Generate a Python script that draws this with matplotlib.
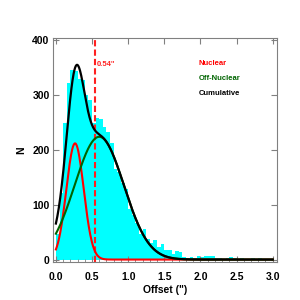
import numpy as np
import matplotlib
matplotlib.use("Agg")
import matplotlib.pyplot as plt

# Histogram of offsets (bin width 0.05")
bin_width = 0.05
bin_starts = [round(i * 0.05, 2) for i in range(60)]
counts = [47, 122, 250, 322, 345, 344, 330, 327, 300, 292,
          250, 258, 256, 242, 232, 212, 165, 160, 140, 128,
          93, 82, 66, 46, 56, 38, 30, 36, 22, 29,
          17, 18, 11, 15, 13, 5, 3, 4, 3, 6,
          5, 7, 7, 6, 3, 3, 0, 2, 4, 3,
          0, 2, 1, 1, 3, 0, 2, 1, 0, 0]

# Gaussian fit parameters (amplitude, centre, sigma)
nuclear_fit = [212.0, 0.265, 0.12]
offnuclear_fit = [224.0, 0.60, 0.34]
median_offset = 0.54

legend_labels = ["Nuclear", "Off-Nuclear", "Cumulative"]
legend_colors = ["#ff0000", "#006400", "#000000"]

plt.rcParams['font.family'] = ['Liberation Sans', 'DejaVu Sans']
plt.rcParams['font.weight'] = 'bold'

fig = plt.figure(figsize=(3, 3), dpi=100)
ax = fig.add_axes([0.1767, 0.1257, 0.7466, 0.749])

ax.bar(bin_starts, counts, width=bin_width, align='edge', color='#00ffff',
       linewidth=0, zorder=1)

xs = np.linspace(0, 3.0, 601)
def gauss(x, p):
    return p[0] * np.exp(-(x - p[1]) ** 2 / (2 * p[2] ** 2))

nuc = gauss(xs, nuclear_fit)
off = gauss(xs, offnuclear_fit)
ax.plot(xs, nuc, color='#ff0000', lw=1.5, zorder=3)
ax.plot(xs, off, color='#006400', lw=1.5, zorder=3)
ax.plot(xs, nuc + off, color='#000000', lw=1.6, zorder=4)

ax.axvline(median_offset, color='#ff2020', lw=1.5, ls=(0, (3, 1.5)), zorder=2)
ax.text(median_offset + 0.02, 356, '0.54"', color='#ff2020', fontsize=5.5,
        fontweight='bold', va='center', ha='left')

for i, (lab, col) in enumerate(zip(legend_labels, legend_colors)):
    ax.text(1.98, 357 - i * 27, lab, color=col, fontsize=5.5,
            fontweight='bold', va='center', ha='left')

ax.set_xlim(-0.04, 3.06)
ax.set_ylim(-5, 405)
ax.set_xticks([0, 0.5, 1.0, 1.5, 2.0, 2.5, 3.0])
ax.set_xticklabels(['0.0', '0.5', '1.0', '1.5', '2.0', '2.5', '3.0'])
ax.set_xticks(np.arange(0, 3.05, 0.1), minor=True)
ax.set_yticks([0, 100, 200, 300, 400])

ax.tick_params(axis='both', which='major', direction='in', length=4,
               width=0.8, color='#808080', labelsize=7.5, top=True, right=True)
ax.tick_params(axis='x', which='major', pad=7)
ax.tick_params(axis='y', which='major', pad=2.5)
ax.tick_params(axis='x', which='minor', direction='in', length=2,
               width=0.6, color='#808080', top=False, bottom=True)
for lab in ax.get_xticklabels() + ax.get_yticklabels():
    lab.set_fontweight('bold')
for s in ax.spines.values():
    s.set_color('#808080')
    s.set_linewidth(0.8)

ax.set_xlabel('Offset (")', fontsize=7.5, fontweight='bold', labelpad=2)
ax.set_ylabel('N', fontsize=7.5, fontweight='bold', labelpad=4)

fig.savefig('out.png', dpi=100)
